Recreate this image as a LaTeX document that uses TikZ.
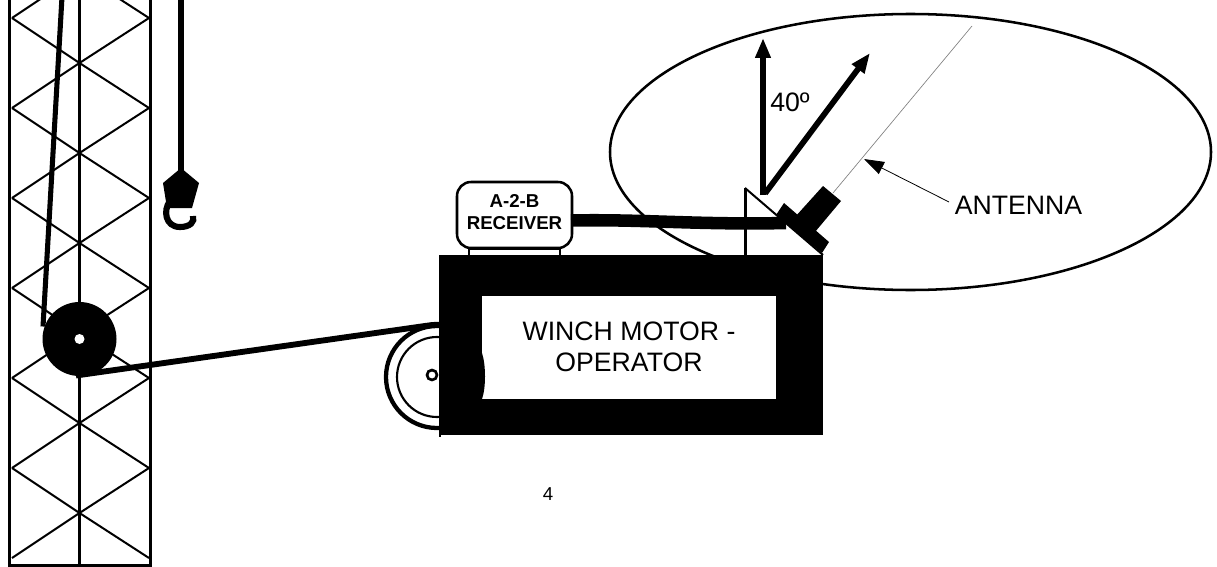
\documentclass[tikz,border=0pt]{standalone}
\usepackage{fontspec}
\setmainfont{Liberation Sans}
\usetikzlibrary{arrows.meta}
\tikzset{
  tower/.style={line width=2.25pt,black},
  brace/.style={line width=1.5pt,black},
  thickrope/.style={line width=3.8pt,black},
  bigarrow/.style={line width=4.3pt,black,-{Triangle[length=15pt,width=11pt]}},
  label/.style={font=\fontsize{20}{23}\selectfont,align=center,inner sep=0pt,text=black},
}
\begin{document}
\begin{tikzpicture}[x=0.75pt,y=-0.75pt]
\useasboundingbox (0,0) rectangle (1217,567);
\clip (0,0) rectangle (1217,567);
% ellipse
\draw[line width=1.9pt] (910.5,152) ellipse [x radius=300.5,y radius=138];
% tower
\draw[tower] (9.5,-5) -- (9.5,565.5) -- (150.5,565.5) -- (150.5,-5);
\draw[tower] (79.5,-5) -- (79.5,565.5);
\foreach \y in {-27,63,153,243,333,423} {
  \draw[brace] (12,\y+45) -- (79.5,\y) -- (149,\y+45);
  \draw[brace] (12,\y+45) -- (79.5,\y+90) -- (149,\y+45);
}
\draw[brace] (12,558) -- (79.5,513) -- (149,558);
% sheave and rope
\draw[thickrope] (62,-3) -- (43,326.5);
\fill (79.5,339) circle [radius=37];
\fill[white] (79.5,339) circle [radius=5];
\draw[thickrope,line width=4.4pt] (76,375.5) -- (432,325) -- (445,324.5);
% drum
\draw[line width=3.2pt] (437,377) circle [radius=51];
\draw[line width=1.6pt] (437,377) circle [radius=40];
\draw[line width=2pt] (432,375) circle [radius=5];
% box
\fill (439,255) rectangle (823,435);
\fill (439,435) rectangle (441,436.5);
\fill[white] (482,296) rectangle (776,399);
\fill (482,353) .. controls (486,365) and (486,388) .. (482,399) -- cycle;
% receiver
\draw[line width=1.7pt] (469,246) -- (469,255) (560,246) -- (560,255);
\draw[line width=1.2pt] (469,249) -- (560,249);
\draw[line width=1.9pt,rounded corners=10.5pt,fill=white] (457,182) rectangle (572,248);
\node[label,font=\bfseries\fontsize{14}{17}\selectfont] (receiver) at (514.5,212) {A-2-B\\RECEIVER};
% mount
\draw[line width=2.25pt] (745,188) -- (745,255);
\draw[line width=1.5pt] (745,188) -- (823,255);
% cable
\draw[line width=9.4pt] (571,220.5) .. controls (640,219) and (700,225) .. (786,223);
% dish
\fill (784,203) -- (829,242) -- (822,253) -- (776,215) -- cycle;
\fill (823,186) -- (841,201) -- (815,232) -- (795,217) -- cycle;
\draw[line width=0.5pt,gray] (833,193) -- (972,26);
% direction arrows
\draw[bigarrow] (763,195) -- (763,38);
\draw[bigarrow] (765,193.5) -- (870,53);
% label arrow
\node[label] (antenna) at (1018.5,205) {ANTENNA};
\draw[line width=0.6pt,-{Triangle[length=15pt,width=10pt]}] (949,202) -- (864,159);
\node[label,anchor=west] (angle) at (770,102) {40º};
\node[label] (motor) at (629,347) {WINCH MOTOR -\\OPERATOR};
\node[label,font=\fontsize{14}{16}\selectfont] (page) at (548,494) {4};
% hook
\fill (181,168) -- (199,183) -- (192,208) -- (167,208) -- (163,183) -- cycle;
\draw[line width=4.6pt] (181,-3) -- (181,172);
\draw[line width=4.6pt] (170,201) .. controls (163,210) and (165,227) .. (180,227) .. controls (190,227) and (195,222) .. (193,216);
\end{tikzpicture}
\end{document}
